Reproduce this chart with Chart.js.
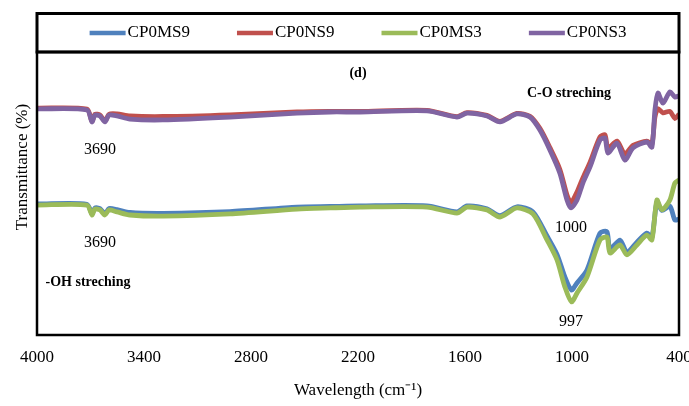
<!DOCTYPE html>
<html>
<head>
<meta charset="utf-8">
<script src="https://cdn.jsdelivr.net/npm/chart.js@4/dist/chart.umd.min.js"></script>
<style>
  html, body { margin: 0; padding: 0; background: #fff; }
  canvas { display: block; }
</style>
</head>
<body>
<canvas id="ftir" width="689" height="406"></canvas>
<script>
// Daten (Wellenzahl in cm-1, Transmittanz in willkuerlichen Einheiten)
const seriesNames = ["CP0MS9", "CP0NS9", "CP0MS3", "CP0NS3"];
const seriesColors = ["#4f81bd", "#c0504d", "#9bbb59", "#8064a2"];

const wnTop = [4000, 3720, 3692, 3675, 3647, 3619, 3596, 3551, 3479, 3294,
  2918, 2542, 2357, 2189, 1813, 1645, 1589, 1477, 1404, 1309,
  1236, 1180, 1124, 1068, 1028, 1006, 972, 939, 899, 843,
  815, 798, 748, 703, 658, 580, 552, 535, 518, 490,
  451, 423, 400];

const wnBottom = [4000, 3720, 3692, 3675, 3647, 3619, 3596, 3551, 3479, 3294,
  2918, 2542, 2357, 2189, 1813, 1645, 1589, 1477, 1404, 1309,
  1219, 1140, 1084, 1040, 1003, 972, 916, 843, 804, 787,
  731, 692, 636, 580, 552, 524, 496, 451, 423, 400];

const cp0ns3 = [79.9, 79.5, 75.3, 77.7, 77.4, 75.3, 77.7, 77.4, 76.3, 76.0,
  77.0, 78.4, 78.8, 78.8, 79.2, 77.0, 78.4, 77.4, 75.3, 78.1,
  77.0, 72.4, 65.4, 57.2, 47.7, 44.9, 47.7, 53.7, 59.4, 68.9,
  69.6, 64.3, 67.8, 61.8, 66.1, 68.2, 66.4, 79.5, 85.5, 81.9,
  85.9, 84.1, 84.5];

const cp0ns9 = [80.2, 79.8, 75.6, 78.0, 77.7, 75.6, 78.0, 78.1, 77.4, 77.2,
  77.8, 78.8, 79.0, 79.0, 79.4, 77.2, 78.6, 77.6, 75.5, 78.3,
  77.3, 73.0, 66.2, 58.5, 49.5, 46.8, 50.5, 55.5, 61.0, 70.0,
  70.7, 66.0, 68.5, 64.0, 67.0, 68.5, 67.5, 77.0, 80.0, 78.5,
  79.0, 76.5, 78.0];

const cp0ms3 = [45.9, 45.9, 42.4, 44.5, 44.2, 42.4, 44.2, 43.5, 42.4, 42.0,
  42.8, 44.5, 44.9, 45.2, 45.2, 43.1, 45.2, 44.2, 41.7, 44.9,
  42.8, 33.6, 26.5, 17.0, 11.7, 14.8, 20.5, 33.6, 34.6, 29.0,
  31.8, 28.3, 31.8, 35.3, 33.6, 47.7, 44.2, 47.7, 53.7, 54.8];

const cp0ms9 = [46.3, 46.2, 42.8, 44.9, 44.7, 42.8, 44.7, 44.3, 43.3, 43.0,
  43.6, 45.2, 45.4, 45.6, 45.6, 43.5, 45.6, 44.6, 42.2, 45.3,
  43.5, 35.0, 28.5, 20.5, 15.9, 18.4, 23.0, 36.0, 36.5, 30.4,
  33.5, 29.3, 32.8, 36.0, 34.5, 47.0, 44.0, 45.5, 40.6, 41.0];

const xTicks = [4000, 3400, 2800, 2200, 1600, 1000, 400];

// Beschriftungen im Diagramm: [Text, Wellenzahl, Wert, fett]
const notes = [
  ["(d)", 2200, 92.6, true],
  ["C-O streching", 1017, 85.5, true],
  ["3690", 3647, 65.4, false],
  ["3690", 3647, 32.5, false],
  ["-OH streching", 3714, 18.7, true],
  ["1000", 1006, 37.8, false],
  ["997", 1006, 4.6, false]
];

const serif = "'Liberation Serif', 'Times New Roman', serif";

function punkte(xs, ys) {
  return xs.map((x, i) => ({ x: x, y: ys[i] }));
}

const werte = [
  punkte(wnBottom, cp0ms9),
  punkte(wnTop, cp0ns9),
  punkte(wnBottom, cp0ms3),
  punkte(wnTop, cp0ns3)
];
// Zeichenreihenfolge: lila ueber rot, gruen ueber blau
const reihenfolge = [3, 2, 1, 0];

const datasets = seriesNames.map((name, i) => ({
  label: name,
  data: werte[i],
  borderColor: seriesColors[i],
  backgroundColor: seriesColors[i],
  borderWidth: 4.8,
  pointRadius: 0,
  tension: 0.25,
  order: reihenfolge[i]
}));

// Rahmen, Legende, y-Titel und Notizen
const extras = {
  id: "extras",
  afterDatasetsDraw(chart) {
    const { ctx, chartArea: a, scales } = chart;
    ctx.save();
    ctx.strokeStyle = "#000";
    ctx.lineWidth = 2.5;
    ctx.strokeRect(a.left, a.top, a.right - a.left, a.bottom - a.top);

    // Legendenkasten
    ctx.lineWidth = 3;
    ctx.strokeRect(a.left, 13.5, a.right - a.left, a.top - 13.5);
    ctx.font = "17px " + serif;
    ctx.textBaseline = "middle";
    ctx.textAlign = "left";
    const sw = 36, gap = 2, abstand = 47;
    const breiten = chart.data.datasets.map(d => sw + gap + ctx.measureText(d.label).width);
    const gesamt = breiten.reduce((s, b) => s + b, 0) + abstand * (breiten.length - 1);
    let x = (a.left + a.right) / 2 - gesamt / 2;
    const ly = 33;
    chart.data.datasets.forEach((d, i) => {
      ctx.strokeStyle = d.borderColor;
      ctx.lineWidth = 4.5;
      ctx.lineCap = "butt";
      ctx.beginPath();
      ctx.moveTo(x, ly);
      ctx.lineTo(x + sw, ly);
      ctx.stroke();
      ctx.fillStyle = "#000";
      ctx.fillText(d.label, x + sw + gap, ly);
      x += breiten[i] + abstand;
    });

    // y-Achsentitel
    ctx.save();
    ctx.translate(23, 167);
    ctx.rotate(-Math.PI / 2);
    ctx.textAlign = "center";
    ctx.font = "17px " + serif;
    ctx.fillStyle = "#000";
    ctx.fillText("Transmittance (%)", 0, 0);
    ctx.restore();

    // Notizen
    ctx.textAlign = "center";
    ctx.fillStyle = "#000";
    notes.forEach(n => {
      ctx.font = (n[3] ? "bold 14px " : "16px ") + serif;
      ctx.fillText(n[0], scales.x.getPixelForValue(n[1]), scales.y.getPixelForValue(n[2]));
    });
    ctx.restore();
  }
};

new Chart(document.getElementById("ftir"), {
  type: "line",
  data: { datasets: datasets },
  options: {
    responsive: false,
    animation: false,
    layout: { padding: { top: 52, right: 10, bottom: 0, left: 0 } },
    plugins: {
      legend: { display: false },
      tooltip: { enabled: false }
    },
    scales: {
      x: {
        type: "linear",
        reverse: true,
        min: 400,
        max: 4000,
        afterBuildTicks: s => { s.ticks = xTicks.map(v => ({ value: v })); },
        afterFit: s => { s.height = 71; s.paddingLeft = 0; s.paddingRight = 0; },
        grid: { display: false, drawTicks: false },
        border: { display: false },
        ticks: {
          color: "#000",
          font: { family: serif, size: 17 },
          padding: 12,
          maxRotation: 0,
          autoSkip: false,
          callback: v => String(v)
        },
        title: {
          display: true,
          text: "Wavelength (cm\u207B\u00B9)",
          color: "#000",
          font: { family: serif, size: 17 },
          padding: { top: 0, bottom: 5 }
        }
      },
      y: {
        min: 0,
        max: 100,
        afterFit: s => { s.width = 37; },
        grid: { display: false, drawTicks: false },
        border: { display: false },
        ticks: { display: false }
      }
    }
  },
  plugins: [extras]
});
</script>
</body>
</html>
